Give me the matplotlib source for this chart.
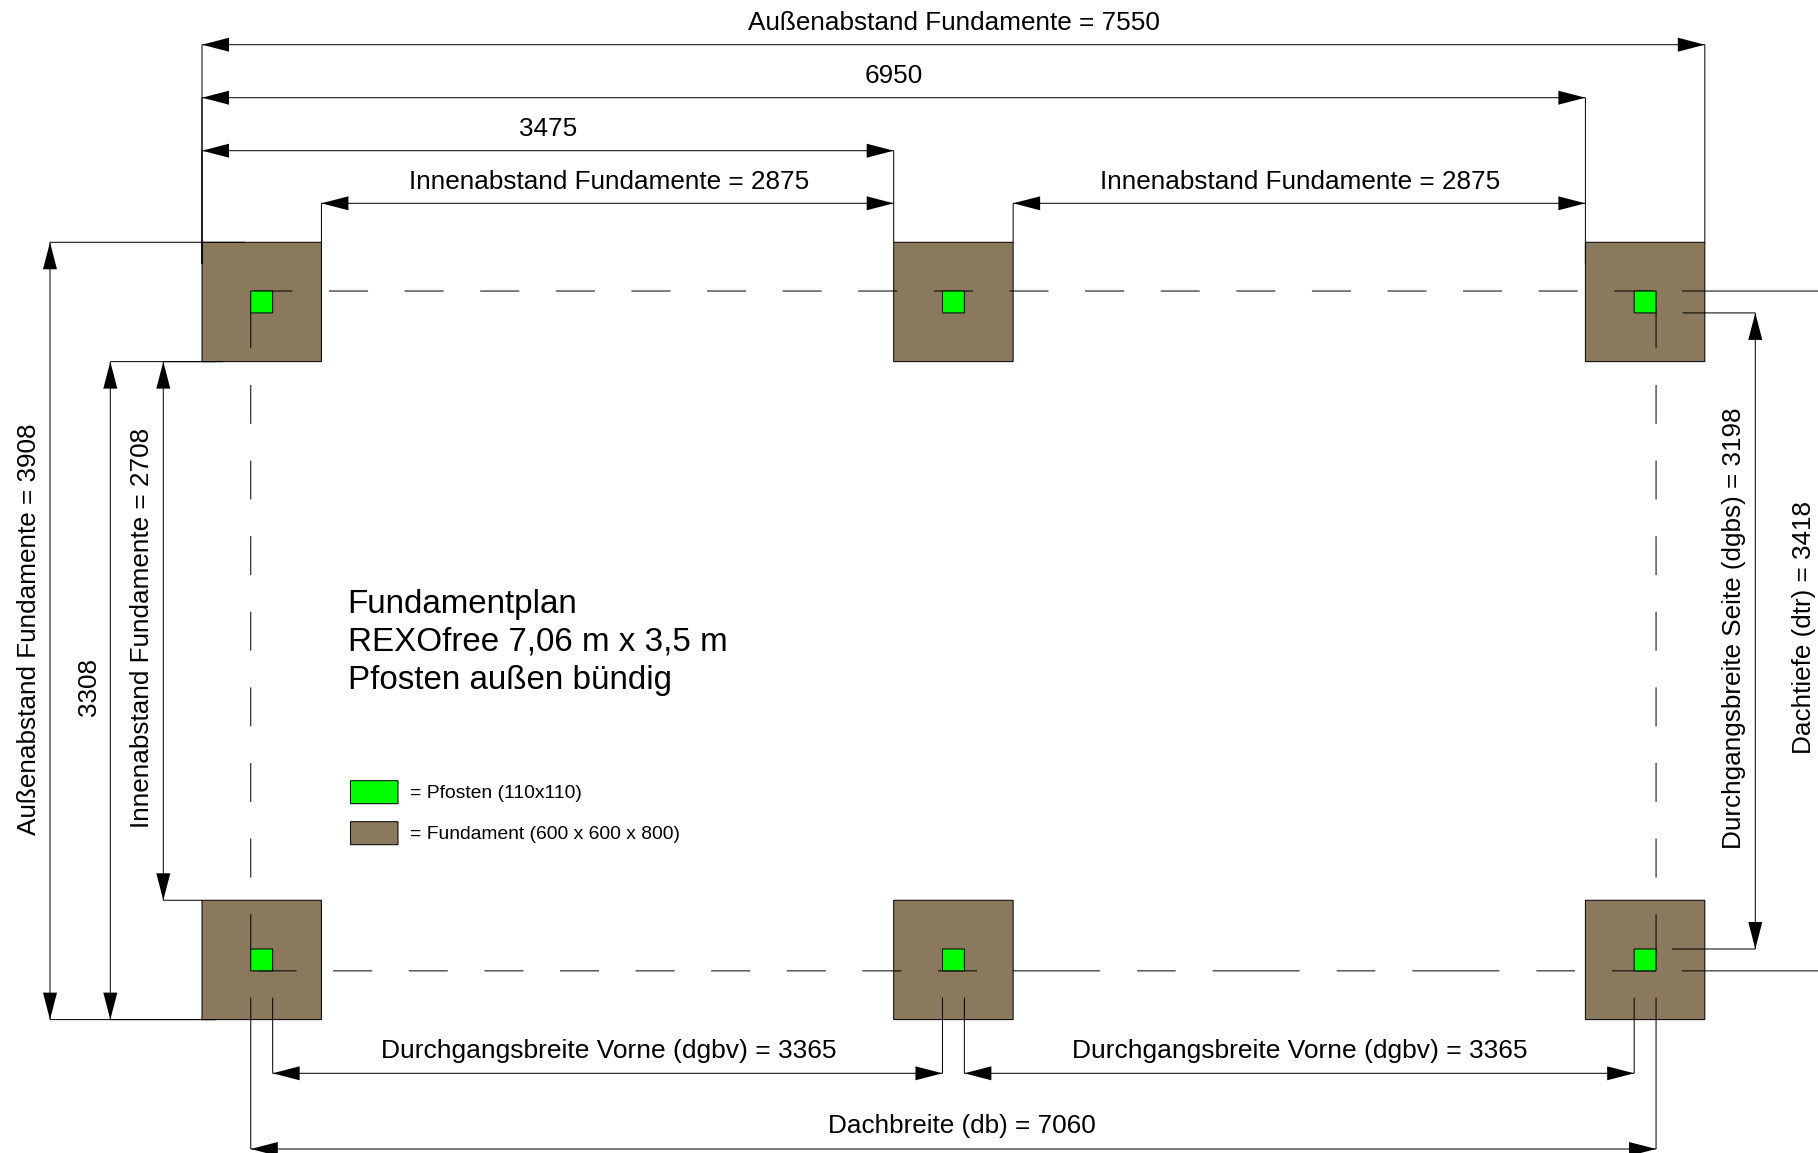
import matplotlib
matplotlib.use("Agg")
import matplotlib.pyplot as plt

plt.rcParams['font.family'] = ['Liberation Sans', 'DejaVu Sans']
plt.rcParams['lines.scale_dashes'] = False

# all values in mm, read from the plan
fund_x = [0, 3475, 6950]
fund_y = [0, 3308]
fund_size = 600
post_size = 110
post_inset = 245

aussen_breite = 7550
mitte_abstand = 3475
achs_breite = 6950
innen_breite = 2875
aussen_tiefe = 3908
achs_tiefe = 3308
innen_tiefe = 2708
dach_breite = 7060
dach_tiefe = 3418
durchgang_vorne = 3365
durchgang_seite = 3198

title_lines = ["Fundamentplan", "REXOfree 7,06 m x 3,5 m", "Pfosten außen bündig"]
legend_labels = ["= Pfosten (110x110)", "= Fundament (600 x 600 x 800)"]

W, H = 1818, 1153
X0, Y0 = 202.0, 242.3
S = 0.19905  # pixel per mm, horizontal
SY = 0.1989  # pixel per mm, vertical
LW = 0.72
BROWN = '#8B795E'
GREEN = '#00FF00'


def mx(px):
    return (px - X0) / S


def my(py):
    return (py - Y0) / SY


fig = plt.figure(figsize=(W / 100, H / 100), dpi=100)
ax = fig.add_axes([0, 0, 1, 1])
ax.set_xlim(mx(0), mx(W))
ax.set_ylim(my(H), my(0))
ax.axis('off')


def line(x0, y0, x1, y1, z=3, **kw):
    ax.plot([x0, x1], [y0, y1], color='black', lw=LW, solid_capstyle='butt',
            dash_capstyle='butt', snap=False, zorder=z, **kw)


def head(x, y, dx, dy):
    # arrow tip at x,y pointing along dx,dy
    ln, wd = 27 / S, 7 / S
    bx, by = x - dx * ln, y - dy * ln
    ax.fill([x, bx - dy * wd, bx + dy * wd], [y, by + dx * wd, by - dx * wd],
            color='black', lw=0, snap=False, zorder=4)


def hdim(x0, x1, y):
    line(x0, y, x1, y)
    head(x0, y, -1, 0)
    head(x1, y, 1, 0)


def vdim(x, y0, y1):
    line(x, y0, x, y1)
    head(x, y0, 0, -1)
    head(x, y1, 0, 1)


def px_dash(*lengths):
    return [v * 0.72 for v in lengths]


# foundations and posts
for fy in fund_y:
    for fx in fund_x:
        ax.add_patch(plt.Rectangle((fx, fy), fund_size, fund_size, fc=BROWN, ec='black',
                                   lw=LW, snap=False, zorder=1))
        ax.add_patch(plt.Rectangle((fx + post_inset, fy + post_inset), post_size, post_size,
                                   fc=GREEN, ec='black', lw=LW, snap=False, zorder=5))

# key positions
left_axis = post_inset
right_axis = left_axis + dach_breite
top_axis = post_inset
bottom_axis = top_axis + dach_tiefe
post_r = left_axis + post_size
mid_l = fund_x[1] + post_inset
mid_r = mid_l + post_size
right_l = right_axis - post_size
post_b = top_axis + post_size
low_t = post_b + durchgang_seite

# dashed roof axes
period = (39, 36.6)
ax.plot([left_axis, right_axis], [top_axis, top_axis], color='black', lw=LW, snap=False,
        zorder=3, dash_capstyle='butt', linestyle=(72.9 * 0.72, px_dash(*period)))
ax.plot([left_axis, fund_x[1] + fund_size], [bottom_axis, bottom_axis], color='black', lw=LW,
        snap=False, zorder=3, dash_capstyle='butt', linestyle=(68.8 * 0.72, px_dash(*period)))
ax.plot([fund_x[1] + fund_size, right_axis], [bottom_axis, bottom_axis], color='black', lw=LW,
        snap=False, zorder=3, dash_capstyle='butt', linestyle=(0, px_dash(87, 37, 38.6, 37)))
for xa in [left_axis, right_axis]:
    ax.plot([xa, xa], [top_axis, bottom_axis], color='black', lw=LW, snap=False, zorder=3,
            dash_capstyle='butt', linestyle=(57.3 * 0.72, px_dash(*period)))

# top dimensions
y_a, y_b, y_c, y_d = my(44.7), my(97.7), my(150.7), my(203.3)
hdim(0, aussen_breite, y_a)
hdim(0, achs_breite, y_b)
hdim(0, mitte_abstand, y_c)
hdim(fund_size, mitte_abstand, y_d)
hdim(mitte_abstand + fund_size, achs_breite, y_d)
line(0, y_a, 0, my(264))
line(0, y_b, 0, my(264))
line(0, y_c, 0, my(264))
line(aussen_breite, y_a, aussen_breite, 0)
line(achs_breite, y_b, achs_breite, my(264))
line(mitte_abstand, y_c, mitte_abstand, 0)
line(fund_size, y_d, fund_size, 0)
line(mitte_abstand + fund_size, y_d, mitte_abstand + fund_size, 0)

# left dimensions
x_a, x_b, x_c = mx(50), mx(110.3), mx(163.3)
vdim(x_a, 0, aussen_tiefe)
vdim(x_b, fund_size, aussen_tiefe)
vdim(x_c, fund_size, fund_size + innen_tiefe)
line(x_a, 0, mx(245), 0)
line(x_b, fund_size, mx(216), fund_size)
line(x_c, fund_size, mx(223), fund_size)
line(x_c, fund_y[1], 0, fund_y[1])
line(x_a, aussen_tiefe, mx(216), aussen_tiefe)
line(x_b, aussen_tiefe, mx(216), aussen_tiefe)

# bottom dimensions
y_e, y_f, y_start = my(1073.3), my(1149), my(997.7)
hdim(post_r, mid_l, y_e)
hdim(mid_r, right_l, y_e)
hdim(left_axis, right_axis, y_f)
for xe in [post_r, mid_l, mid_r, right_l]:
    line(xe, y_start, xe, y_e)
for xe in [left_axis, right_axis]:
    line(xe, y_start, xe, y_f)

# right dimensions
x_g = mx(1755.3)
vdim(x_g, post_b, low_t)
line(mx(1682.7), post_b, x_g, post_b)
line(mx(1672), low_t, x_g, low_t)
line(mx(1682), top_axis, mx(W), top_axis)
line(mx(1682), bottom_axis, mx(W), bottom_axis)


# dimension labels
def label(px, py, s, rot=0, size=18.85):
    ax.text(mx(px), my(py), s, fontsize=size, rotation=rot, ha='center', va='center',
            color='black', zorder=6)


label(954, 23.3, f"Außenabstand Fundamente = {aussen_breite}")
label(894, 76.3, f"{achs_breite}")
label(548.5, 129.3, f"{mitte_abstand}")
label(609, 182.3, f"Innenabstand Fundamente = {innen_breite}")
label(1300, 182.3, f"Innenabstand Fundamente = {innen_breite}")
label(609, 1051.3, f"Durchgangsbreite Vorne (dgbv) = {durchgang_vorne}", size=19)
label(1300, 1051.3, f"Durchgangsbreite Vorne (dgbv) = {durchgang_vorne}", size=19)
label(961.5, 1126.3, f"Dachbreite (db) = {dach_breite}")
label(29, 629.5, f"Außenabstand Fundamente = {aussen_tiefe}", rot=90)
label(89.3, 687, f"{achs_tiefe}", rot=90)
label(141.8, 628, f"Innenabstand Fundamente = {innen_tiefe}", rot=90)
label(1733.5, 628, f"Durchgangsbreite Seite (dgbs) = {durchgang_seite}", rot=90)
label(1804.5, 628, f"Dachtiefe (dtr) = {dach_tiefe}", rot=90)

# title block
for py, s in zip([604.2, 642.2, 680.2], title_lines):
    ax.text(mx(347.5), my(py), s, fontsize=23.85, ha='left', va='center', zorder=6)

# legend
for py, c, s in zip([780.7, 821.7], [GREEN, BROWN], legend_labels):
    ax.add_patch(plt.Rectangle((mx(350.5), my(py)), 47.5 / S, 23 / SY, fc=c, ec='black',
                               lw=LW, snap=False, zorder=5))
    ax.text(mx(410), my(py + 12.3), s, fontsize=13.9, ha='left', va='center', zorder=6)

fig.savefig('out.png', dpi=100, facecolor='white')
